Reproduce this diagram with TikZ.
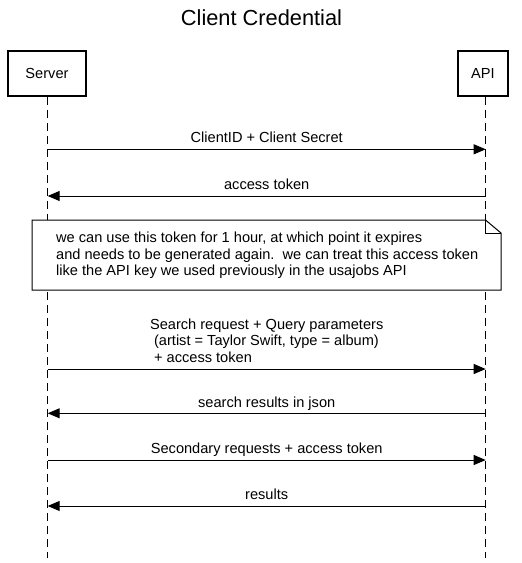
\documentclass[tikz,border=0pt]{standalone}
\usepackage{fontspec}
\setmainfont{Liberation Sans}
\usetikzlibrary{arrows.meta}
\begin{document}
\begin{tikzpicture}[x=1pt,y=-1pt,
  txt/.style={font=\fontsize{14.6}{16.5}\selectfont, inner sep=0pt},
  actor/.style={draw, line width=2pt, fill=white, txt, minimum height=45pt},
  life/.style={line width=1pt, dash pattern=on 8pt off 5pt},
  msg/.style={line width=1pt, -{Triangle[length=12pt,width=10pt]}},
  lbl/.style={txt, anchor=base},
  notebox/.style={draw, line width=1pt, fill=white}]
\useasboundingbox (0,0) rectangle (522,563);
% title
\node[font=\fontsize{21.8}{24}\selectfont, inner sep=0pt] (title) at (261.5,17.5) {Client Credential};
% actors
\node[actor, minimum width=78pt] (srv) at (47,73.5) {Server};
\node[actor, minimum width=50pt] (api) at (483,73.5) {API};
% lifelines
\coordinate (sT) at (47.7,97);  \coordinate (sB) at (47.7,558);
\coordinate (aT) at (485.7,97); \coordinate (aB) at (485.7,558);
\draw[life] (sT) -- (sB);
\draw[life] (aT) -- (aB);
% message endpoints
\foreach \n/\y in {1/149.3,2/196,3/369,4/413.3,5/460,6/506}{
  \coordinate (s\n) at (47.7,\y);
  \coordinate (a\n) at (485.7,\y);
}
% messages
\draw[msg] (s1) -- (a1) node[lbl, pos=0.5, yshift=7pt] (l1) {ClientID + Client Secret};
\draw[msg] (a2) -- (s2) node[lbl, pos=0.5, yshift=7pt] (l2) {access token};
% note
\coordinate (nTL) at (32,220); \coordinate (nF) at (485.5,220);
\coordinate (nFR) at (501,233); \coordinate (nBR) at (501,290); \coordinate (nBL) at (32,290);
\draw[notebox] (nTL) -- (nF) -- (nFR) -- (nBR) -- (nBL) -- cycle;
\draw[line width=1pt] (nF) -- (nF |- nFR) -- (nFR);
\node[txt, anchor=west, align=left] (note) at (56,255.5) {we can use this token for 1 hour, at which point it expires\\and needs to be generated again.\ \ we can treat this access token\\like the API key we used previously in the usajobs API};
% messages
\draw[msg] (s3) -- (a3) node[txt, pos=0.5, anchor=south, align=left, yshift=6pt] (l3) {Search request + Query parameters\\\ (artist = Taylor Swift, type = album)\\\ + access token};
\draw[msg] (a4) -- (s4) node[lbl, pos=0.5, yshift=6pt] (l4) {search results in json};
\draw[msg] (s5) -- (a5) node[lbl, pos=0.5, yshift=6.5pt] (l5) {Secondary requests + access token};
\draw[msg] (a6) -- (s6) node[lbl, pos=0.5, yshift=7pt] (l6) {results};
\end{tikzpicture}
\end{document}
